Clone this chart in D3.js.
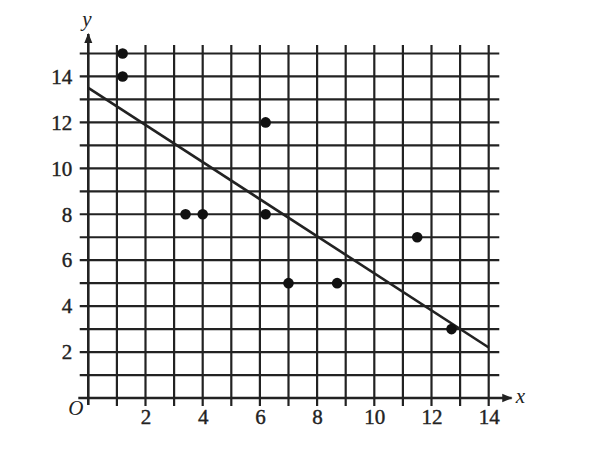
<!DOCTYPE html>
<html>
  <head>
    <meta charset="utf-8">
    <script src="https://d3js.org/d3.v7.min.js"></script>
    <style>
      body { margin: 0; background: #fff; }
      text { font-family: "Liberation Serif", "DejaVu Serif", serif; fill: #222; }
    </style>
  </head>
  <body>
    <div id="chart"></div>
    <script>
      // DATA
      const pointsX = [1.2, 1.2, 3.4, 4.0, 6.2, 6.2, 7.0, 8.7, 11.5, 12.7];
      const pointsY = [15, 14, 8, 8, 12, 8, 5, 5, 7, 3];
      const lineX = [0, 14];
      const lineY = [13.5, 2.2];
      const xTicks = [2, 4, 6, 8, 10, 12, 14];
      const yTicks = [2, 4, 6, 8, 10, 12, 14];
      const xGrid = d3.range(1, 15);
      const yGrid = d3.range(1, 16);

      const width = 600, height = 450;
      const ink = "#222";

      const svg = d3.select("#chart")
        .append("svg")
        .attr("width", width)
        .attr("height", height);

      // SCALES
      const x = d3.scaleLinear().domain([0, 14]).range([88.3, 488.7]);
      const y = d3.scaleLinear().domain([0, 15]).range([398, 53.5]);

      // GRID
      svg.append("g").selectAll("line")
        .data(xGrid)
        .join("line")
        .attr("x1", d => x(d)).attr("x2", d => x(d))
        .attr("y1", y(-0.35)).attr("y2", y(15.37))
        .attr("stroke", ink).attr("stroke-width", 2.2);

      svg.append("g").selectAll("line")
        .data(yGrid)
        .join("line")
        .attr("x1", x(-0.3)).attr("x2", x(14.37))
        .attr("y1", d => y(d)).attr("y2", d => y(d))
        .attr("stroke", ink).attr("stroke-width", 2.2);

      // AXES with arrows
      svg.append("defs").append("marker")
        .attr("id", "arrow")
        .attr("viewBox", "0 0 10 10")
        .attr("refX", 9).attr("refY", 5)
        .attr("markerWidth", 4).attr("markerHeight", 4)
        .attr("orient", "auto")
        .append("path")
        .attr("d", "M0,1 L10,5 L0,9 z")
        .attr("fill", ink);

      svg.append("line")
        .attr("x1", x(-0.35)).attr("x2", x(14.8))
        .attr("y1", y(0)).attr("y2", y(0))
        .attr("stroke", ink).attr("stroke-width", 2.6)
        .attr("marker-end", "url(#arrow)");

      svg.append("line")
        .attr("x1", x(0)).attr("x2", x(0))
        .attr("y1", y(-0.3)).attr("y2", y(15.85))
        .attr("stroke", ink).attr("stroke-width", 2.6)
        .attr("marker-end", "url(#arrow)");

      // TICK LABELS
      const xAxis = svg.append("g")
        .attr("transform", "translate(0," + (y(0) + 8) + ")")
        .call(d3.axisBottom(x).tickValues(xTicks).tickSize(0).tickFormat(d3.format("d")));
      xAxis.select(".domain").remove();
      xAxis.selectAll("text")
        .attr("dy", "0.71em");

      const yAxis = svg.append("g")
        .attr("transform", "translate(" + (x(0) - 13) + ",0)")
        .call(d3.axisLeft(y).tickValues(yTicks).tickSize(0).tickFormat(d3.format("d")));
      yAxis.select(".domain").remove();

      // d3 axis sets sans-serif on the group, switch it to the serif face
      svg.selectAll(".tick").select(function () { return this.parentNode; })
        .attr("font-family", "Liberation Serif")
        .attr("font-size", 21);
      svg.selectAll(".tick text")
        .attr("fill", ink)
        .attr("stroke", ink)
        .attr("stroke-width", 0.4);

      // AXIS NAMES
      svg.append("text").attr("x", x(0) - 20).attr("y", y(0) + 17)
        .attr("font-size", 21).attr("font-style", "italic").text("O");
      svg.append("text").attr("x", x(14.95)).attr("y", y(0) + 5)
        .attr("font-size", 21).attr("font-style", "italic").text("x");
      svg.append("text").attr("x", x(0) - 6).attr("y", 26)
        .attr("font-size", 21).attr("font-style", "italic").text("y");

      // TREND LINE
      svg.append("path")
        .datum(d3.zip(lineX, lineY))
        .attr("d", d3.line().x(d => x(d[0])).y(d => y(d[1])))
        .attr("stroke", ink).attr("stroke-width", 2.6).attr("fill", "none");

      // POINTS
      svg.append("g").selectAll("circle")
        .data(d3.zip(pointsX, pointsY))
        .join("circle")
        .attr("cx", d => x(d[0]))
        .attr("cy", d => y(d[1]))
        .attr("r", 5.3)
        .attr("fill", "#111");
    </script>
  </body>
</html>
